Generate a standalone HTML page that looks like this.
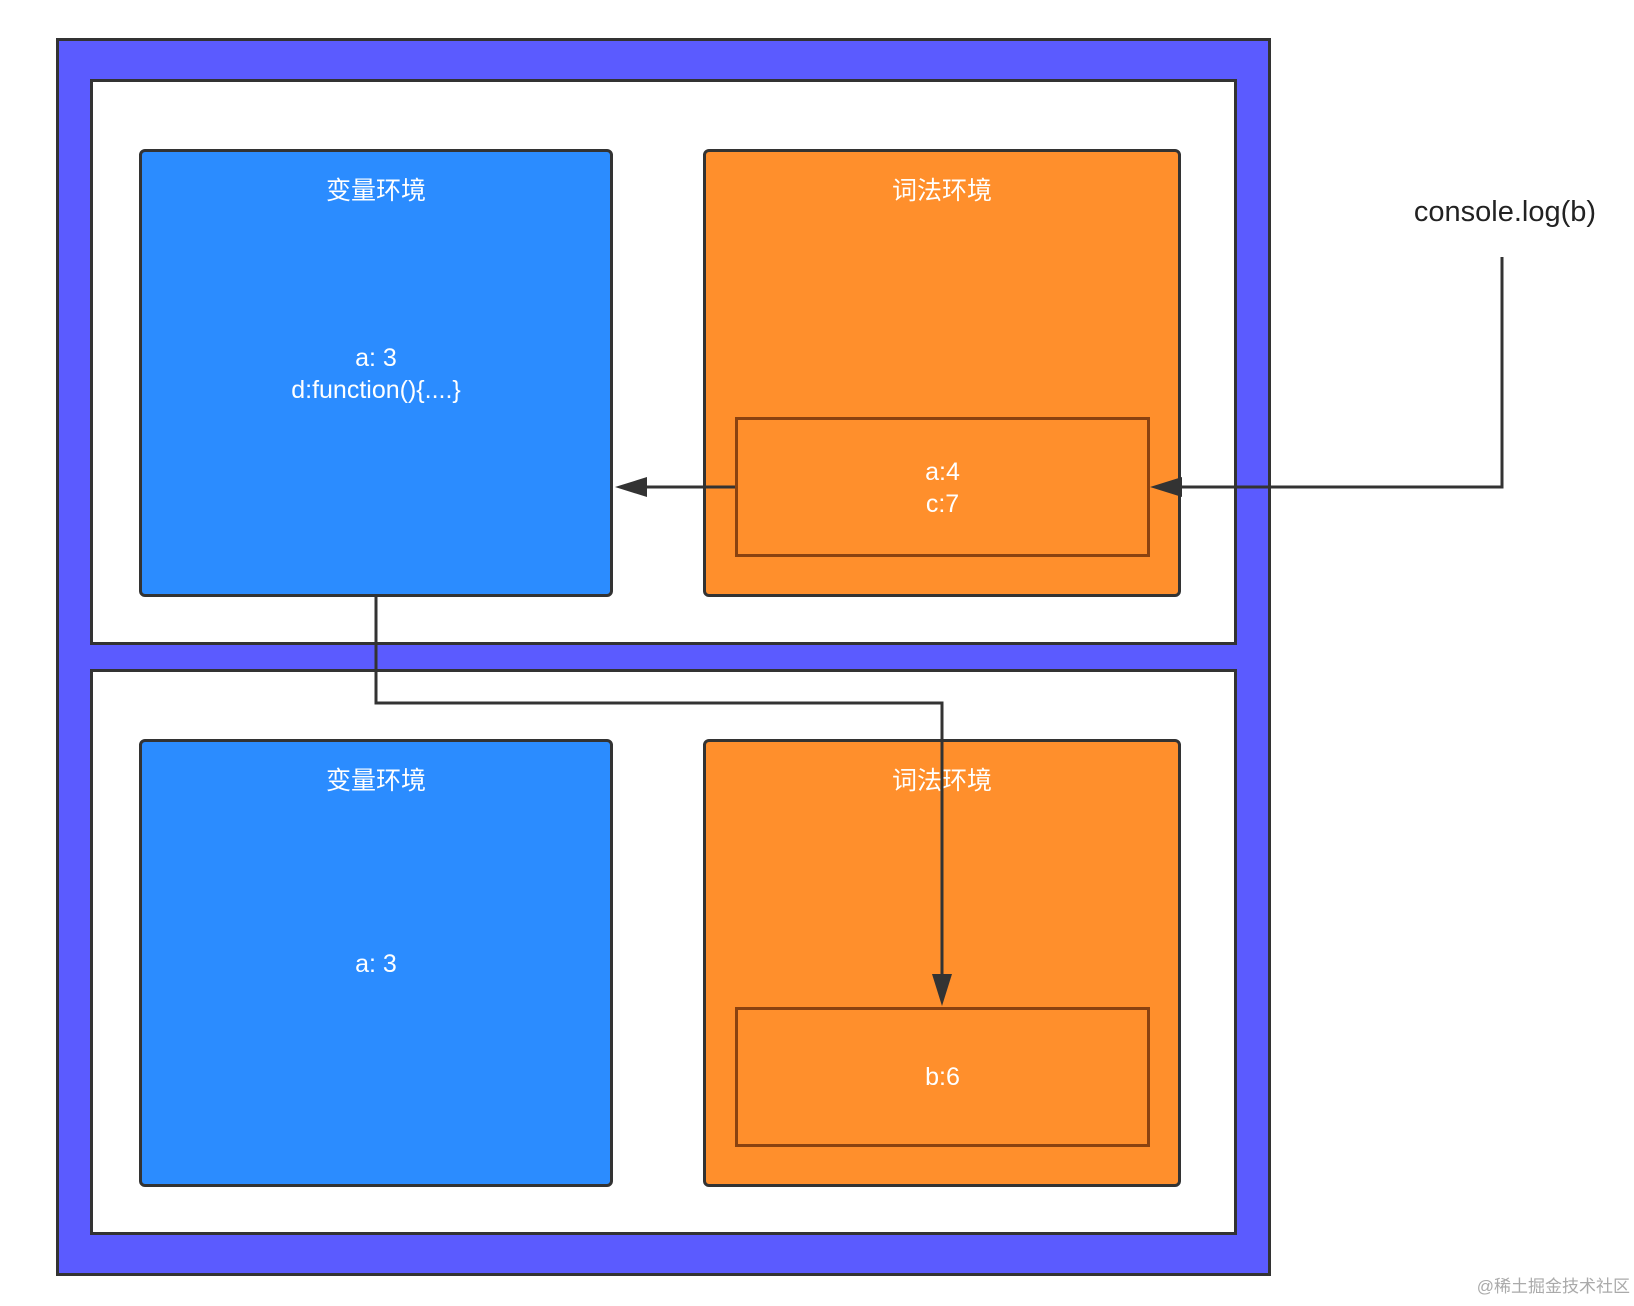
<!DOCTYPE html><html><head><meta charset="utf-8"><style>
body{margin:0;width:1634px;height:1306px;background:#fff;position:relative;overflow:hidden;font-family:"Liberation Sans","Noto Sans CJK SC",sans-serif}
div{position:absolute;box-sizing:border-box}
.t{color:#fff;font-size:25px;text-align:center;line-height:32px}
</style></head><body>
<div style="left:56px;top:38px;width:1215px;height:1238px;background:#5b5bff;border:3px solid #333"></div>
<div style="left:90px;top:79px;width:1147px;height:566px;background:#fff;border:3px solid #333"></div>
<div style="left:90px;top:669px;width:1147px;height:566px;background:#fff;border:3px solid #333"></div>
<div style="left:139px;top:149px;width:474px;height:448px;background:#2b8cff;border:3px solid #333;border-radius:6px"></div>
<div style="left:703px;top:149px;width:478px;height:448px;background:#ff8f2c;border:3px solid #333;border-radius:6px"></div>
<div style="left:735px;top:417px;width:415px;height:140px;border:3px solid #8a4210"></div>
<div style="left:139px;top:739px;width:474px;height:448px;background:#2b8cff;border:3px solid #333;border-radius:6px"></div>
<div style="left:703px;top:739px;width:478px;height:448px;background:#ff8f2c;border:3px solid #333;border-radius:6px"></div>
<div style="left:735px;top:1007px;width:415px;height:140px;border:3px solid #8a4210"></div>
<div class="t" style="left:139px;top:175px;width:474px">变量环境</div>
<div class="t" style="left:703px;top:175px;width:478px">词法环境</div>
<div class="t" style="left:139px;top:765px;width:474px">变量环境</div>
<div class="t" style="left:703px;top:765px;width:478px">词法环境</div>
<div class="t" style="left:139px;top:342px;width:474px">a: 3<br>d:function(){....}</div>
<div class="t" style="left:735px;top:456px;width:415px">a:4<br>c:7</div>
<div class="t" style="left:139px;top:948px;width:474px">a: 3</div>
<div class="t" style="left:735px;top:1061px;width:415px">b:6</div>
<div style="left:1390px;top:196px;width:230px;font-size:29px;color:#222;text-align:center">console.log(b)</div>
<div style="left:1465px;top:1272px;width:165px;font-size:17px;color:#aaa;text-align:right">@稀土掘金技术社区</div>
<svg width="1634" height="1306" style="position:absolute;left:0;top:0">
<g stroke="#333" stroke-width="3" fill="none">
<polyline points="1502,257 1502,487 1170,487"/>
<polyline points="735,487 640,487"/>
<polyline points="376,597 376,703 942,703 942,975"/>
</g>
<g fill="#333">
<polygon points="1150,487 1182,477 1182,497"/>
<polygon points="615,487 647,477 647,497"/>
<polygon points="942,1006 932,974 952,974"/>
</g>
</svg>
</body></html>
